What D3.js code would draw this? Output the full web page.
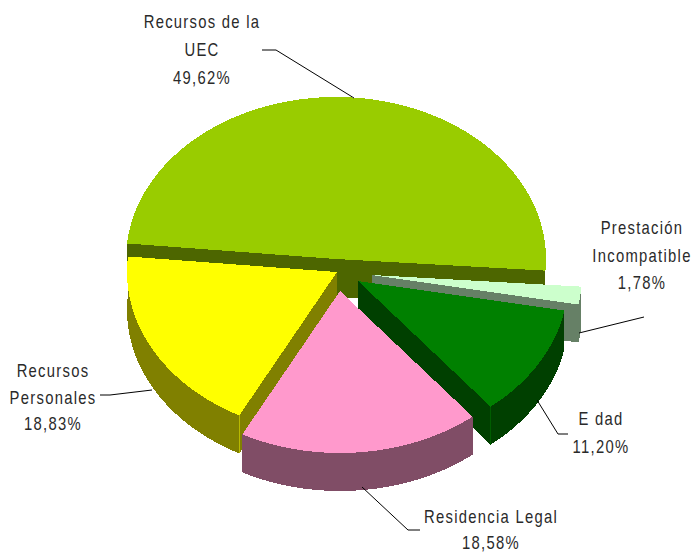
<!DOCTYPE html>
<html><head><meta charset="utf-8">
<script src="https://cdn.jsdelivr.net/npm/d3@7"></script>
<style>html,body{margin:0;background:#fff}svg{display:block}
text{font-family:"Liberation Sans",Arial,sans-serif;font-size:18.5px;fill:#2a2a2a;text-anchor:middle;letter-spacing:1.6px}</style>
</head><body><svg id="c" width="693" height="552"></svg>
<script>
const categories = ["Recursos de la UEC","Prestación Incompatible","Edad","Residencia Legal","Recursos Personales"];
const values = [49.62,1.78,11.20,18.58,18.83];
const valueLabels = ["49,62%","1,78%","11,20%","18,58%","18,83%"];
const labelLines = [["Recursos de la","UEC"],["Prestación","Incompatible"],["E dad"],["Residencia Legal"],["Recursos","Personales"]];
const topColors = ["#99CC00","#CCFFCC","#008000","#FF99CC","#FFFF00"];
const sideColors = ["#4D6600","#668066","#004000","#804D66","#808000"];

// layout (not data)
const centers = [[336,259],[372,275],[358,281],[340,291],[337,272]];
const labelAnchors = [[202,28],[642,234],[601,425],[491,523],[53,377]];
const labelGaps = [28,27.5,27.5,25.5,26.5];
const leaders = [
  [[262,50],[276,50],[354,98]],
  [[579,333],[644,317]],
  [[537,400],[558,434],[568,434]],
  [[362,487],[408,530],[420,530]],
  [[152,390],[110,395],[100,395]]
];
const rx = 210, ry = 162, depth = 38, textSqueeze = 0.8;
const drawOrder = [0,1,2,4,3];

const svg = d3.select("#c");
const slices = d3.pie().sort(null)
  .startAngle(-84.5*Math.PI/180)
  .endAngle((360-84.5)*Math.PI/180)(values);

const pt = (c,a,dy=0)=>[c[0]+rx*Math.sin(a), c[1]-ry*Math.cos(a)+dy];
const line = d3.line();
const arcPts = (c,s,dy=0)=>d3.range(0,121).map(i=>pt(c,s.startAngle+(s.endAngle-s.startAngle)*i/120,dy));

drawOrder.forEach(i=>{
  const s = slices[i], c = centers[i], g = svg.append("g").attr("shape-rendering","crispEdges");
  const top = arcPts(c,s), bot = arcPts(c,s,depth);
  const c2 = [c[0],c[1]+depth];
  const side = [
    [c2,...bot],
    [...top,...bot.slice().reverse()],
    [c,top[0],bot[0],c2],
    [c,top[120],bot[120],c2]
  ];
  g.selectAll("path.side").data(side).join("path").attr("class","side")
    .attr("d",d=>line(d)+"Z").attr("fill",sideColors[i]);
  g.append("path").attr("d",line([c,...top])+"Z").attr("fill",topColors[i]);
  const end = i===3||i===4 ? top[0] : top[120];
  if(i===2||i===4) g.append("line").attr("x1",end[0]).attr("y1",end[1]).attr("x2",end[0]).attr("y2",end[1]+depth)
     .attr("stroke",topColors[i]).attr("stroke-opacity",.45);
});

svg.selectAll("path.leader").data(leaders).join("path").attr("class","leader")
  .attr("d",d=>line(d)).attr("fill","none").attr("stroke","#000").attr("stroke-width",1);

categories.forEach((cat,i)=>{
  const lines=[...labelLines[i],valueLabels[i]];
  lines.forEach((l,j)=>svg.append("text")
    .attr("transform",`translate(${labelAnchors[i][0]},${labelAnchors[i][1]+j*labelGaps[i]}) scale(${textSqueeze},1)`)
    .text(l));
});
</script></body></html>
